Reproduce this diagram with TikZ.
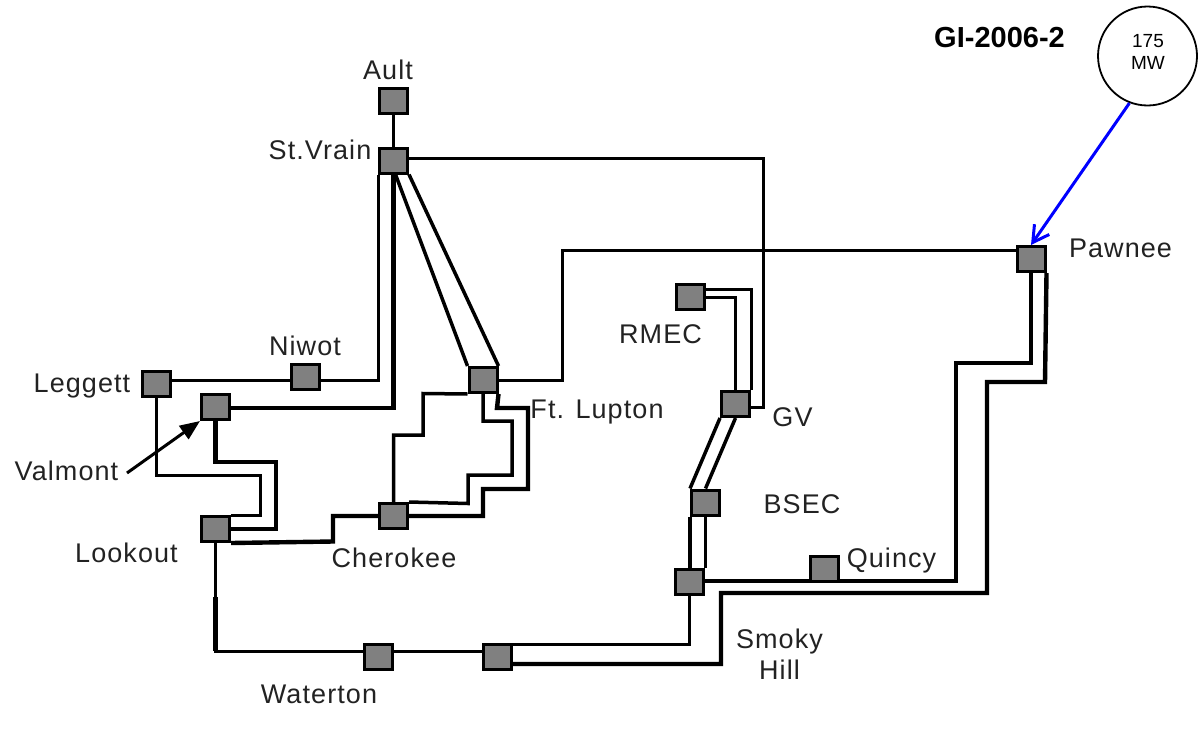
\documentclass[tikz,border=0pt]{standalone}
\usepackage{fontspec}
\setmainfont{Liberation Sans}
\newfontfamily\lblfont[LetterSpace=4]{Liberation Sans}
\usetikzlibrary{arrows.meta,backgrounds}
\definecolor{busgray}{RGB}{128,128,128}
\definecolor{txtgray}{RGB}{34,34,34}
\definecolor{genblue}{RGB}{0,0,255}
\begin{document}
\begin{tikzpicture}[x=1pt,y=-1pt,
  bus/.style={draw=black,fill=busgray,line width=3pt,minimum width=28pt,minimum height=25pt,inner sep=0pt},
  lbl/.style={font=\lblfont\fontsize{27}{30}\selectfont,text=txtgray,anchor=base,inner sep=0pt},
  ln/.style={draw=black,line width=3pt,line join=miter},
  lnm/.style={draw=black,line width=3.5pt,line join=miter},
  lnk/.style={draw=black,line width=4.4pt,line join=miter}]
\useasboundingbox (0,0) rectangle (1198,755);
% substations
\node[bus] (Ault) at (393.5,100.5) {};
\node[bus] (StVrain) at (393.5,160.5) {};
\node[bus] (Niwot) at (305,377) {};
\node[bus] (FtLupton) at (483,380) {};
\node[bus] (Leggett) at (156,384) {};
\node[bus] (Valmont) at (215.5,407) {};
\node[bus] (Lookout) at (215.5,529) {};
\node[bus] (Cherokee) at (393.5,516) {};
\node[bus] (RMEC) at (690,296.5) {};
\node[bus] (GV) at (735.5,404) {};
\node[bus] (BSEC) at (705.5,502.5) {};
\node[bus] (SmokyHill) at (689.5,581.5) {};
\node[bus] (Quincy) at (824,569) {};
\node[bus] (Pawnee) at (1031,259) {};
\node[bus] (Waterton) at (378,657) {};
\node[bus] (SmokyHillB) at (497.5,657) {};
% generator
\node[draw=black,line width=1.8pt,circle,minimum size=99pt,inner sep=0pt] (gen) at (1147.5,56) {};
\node[font=\fontsize{19}{21}\selectfont,anchor=base,inner sep=0pt] (g175) at (1148,47) {175};
\node[font=\fontsize{19}{21}\selectfont,anchor=base,inner sep=0pt] (gMW) at (1148,69) {MW};
\node[font=\bfseries\fontsize{29}{32}\selectfont,anchor=base,inner sep=0pt] (gi) at (999.5,47) {GI-2006-2};
% labels
\node[lbl] (tAult) at (388,79) {Ault};
\node[lbl] (tStVrain) at (320,159) {St.Vrain};
\node[lbl] (tNiwot) at (305,355) {Niwot};
\node[lbl] (tLeggett) at (82,392) {Leggett};
\node[lbl] (tValmont) at (66.5,480) {Valmont};
\node[lbl] (tLookout) at (126.5,562) {Lookout};
\node[lbl] (tCherokee) at (394,567) {Cherokee};
\node[lbl] (tFtLupton) at (597,418) {Ft. Lupton};
\node[lbl] (tRMEC) at (660.5,343) {RMEC};
\node[lbl] (tGV) at (792.5,426) {GV};
\node[lbl] (tBSEC) at (802,513) {BSEC};
\node[lbl] (tQuincy) at (891.5,567) {Quincy};
\node[lbl] (tSmoky) at (779.5,648) {Smoky};
\node[lbl] (tHill) at (779.5,679) {Hill};
\node[lbl] (tWaterton) at (319,703) {Waterton};
\node[lbl] (tPawnee) at (1120.5,257) {Pawnee};
\coordinate (vtail) at (127,473);
\begin{pgfonlayer}{background}
\draw[ln] (Ault.south) -- (StVrain.north);
\draw[ln] (StVrain.east |- 0,158) -- (763,158) -- (763,407) -- (GV.east |- 0,407);
\draw[ln] (Leggett.east |- 0,380) -- (StVrain.south west |- 0,380) -- (StVrain.south west);
\draw[lnk] (StVrain.south) -- (StVrain.south |- 0,408) -- (Valmont.east |- 0,408);
\draw[lnm] ([xshift=2pt]StVrain.south) -- (FtLupton.north west);
\draw[lnm] (StVrain.south east) -- (FtLupton.north east);
\draw[ln] (FtLupton.east) -- (562,380) -- (562,250) -- (Pawnee.west |- 0,250);
\draw[lnm] (FtLupton.south west) -- (423,393.5) -- (423,435) -- (393.5,435) -- (Cherokee.north);
\draw[lnm] (FtLupton.south) -- (483,421) -- (512,421) -- (512,475) -- (468,475) -- (468,503.5) -- (Cherokee.north east);
\draw[lnk] (FtLupton.south east) -- (497,408) -- (528,408) -- (528,489) -- (483,489) -- (483,516) -- (Cherokee.east);
\draw[lnk] (Cherokee.west) -- (333,516) -- (333,541.5) -- (Lookout.south east);
\draw[lnk] (Valmont.south) -- (215.5,462) -- (276,462) -- (276,529) -- (Lookout.east);
\draw[ln] (Leggett.south) -- (156,475) -- (260,475) -- (260,515) -- (Lookout.north east |- 0,515);
\draw[ln] (Lookout.south) -- (215.5,651) -- (Waterton.west |- 0,651);
\draw[lnk] (215.5,597) -- (215.5,651);
\draw[ln] (Waterton.east |- 0,651) -- (SmokyHillB.west |- 0,651);
\draw[ln] (SmokyHillB.east |- 0,644) -- (SmokyHill.south |- 0,644) -- (SmokyHill.south);
\draw[lnk] (SmokyHillB.east |- 0,664) -- (721,664) -- (721,593) -- (987,593) -- (987,382) -- (1045,382) -- (Pawnee.south east);
\draw[lnm] (SmokyHill.east |- 0,581) -- (956,581) -- (956,363) -- (1031,363) -- (Pawnee.south);
\draw[ln] (RMEC.east |- 0,289) -- (GV.north east |- 0,289) -- (GV.north east);
\draw[ln] (RMEC.east |- 0,297) -- (GV.north |- 0,297) -- (GV.north);
\draw[lnm] (GV.south west) -- (BSEC.north west);
\draw[lnm] (GV.south) -- (BSEC.north);
\draw[lnm] (BSEC.south west) -- (BSEC.south west |- SmokyHill.north);
\draw[lnm] (BSEC.south) -- (BSEC.south |- SmokyHill.north);
\end{pgfonlayer}
\draw[line width=3pt,-{Triangle[length=20pt,width=16pt]}] (vtail) -- (Valmont.south west);
\draw[genblue,line width=3pt,-{Straight Barb[length=16pt,width=18pt]}] (gen.249) -- (Pawnee.north);
\end{tikzpicture}
\end{document}
